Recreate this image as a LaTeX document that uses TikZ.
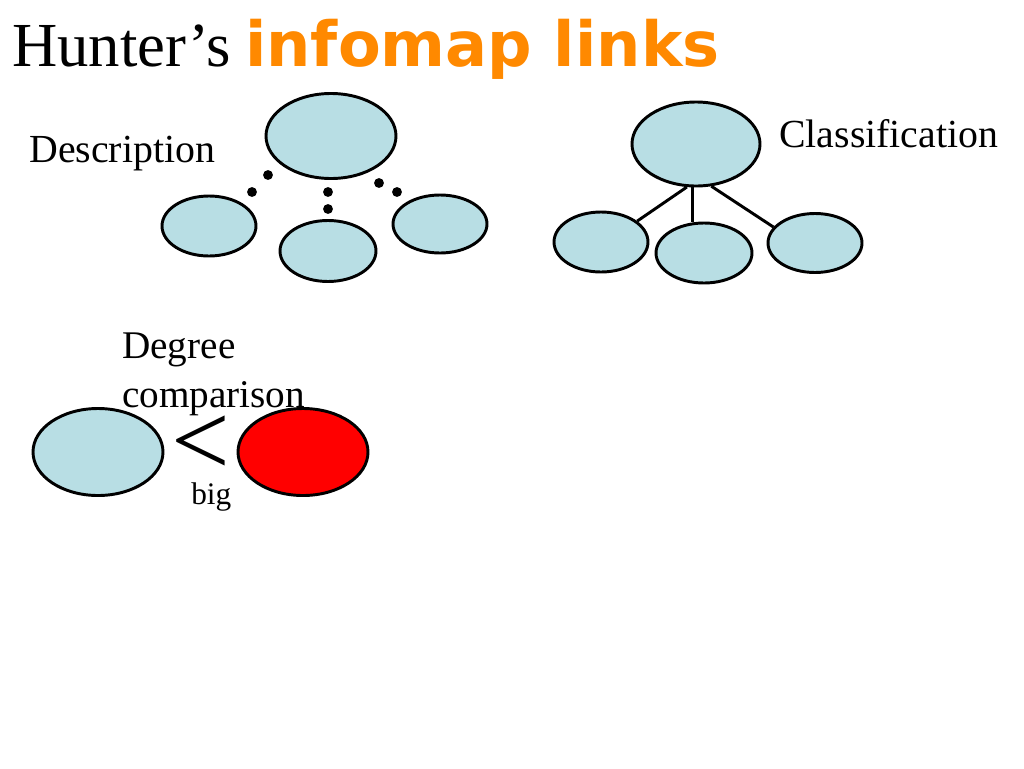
\documentclass[tikz,border=0pt]{standalone}
\usepackage{fontspec}
\setmainfont{Liberation Serif}
\newfontfamily\vb{DejaVu Sans}
\usetikzlibrary{shapes.geometric}
\definecolor{lblue}{RGB}{184,222,228}
\definecolor{torange}{RGB}{255,137,0}
\definecolor{bred}{RGB}{255,0,0}
\tikzset{
  ell/.style={ellipse, draw=black, line width=2.2pt, inner sep=0pt, fill=lblue},
  lbl/.style={inner sep=0pt, anchor=base west},
  conn/.style={line width=2.2pt, black},
  dotc/.style={fill=black}
}
\begin{document}
\begin{tikzpicture}[x=0.75pt,y=-0.75pt]
\useasboundingbox[fill=white] (0,0) rectangle (1024,768);
% title
\node[lbl, font=\fontsize{47}{56}\selectfont] (t1) at (12,66) {Hunter’s};
\node[lbl, font=\vb\bfseries\fontsize{46.7}{56}\selectfont, text=torange] (t2) at (245,66) {infomap links};
% description
\node[lbl, font=\fontsize{29.85}{36}\selectfont] (ldesc) at (29,162) {Description};
\node[ell, minimum width=130*0.75pt, minimum height=85*0.75pt] (d0) at (331,136) {};
\node[ell, minimum width=94*0.75pt, minimum height=60*0.75pt] (d1) at (209,226) {};
\node[ell, minimum width=96*0.75pt, minimum height=61*0.75pt] (d2) at (328,251) {};
\node[ell, minimum width=94*0.75pt, minimum height=58*0.75pt] (d3) at (440,224) {};
\foreach \p in {(268,175),(252,192),(328,192),(328,209),(379,183),(397,192)}
  \fill[dotc] \p circle (3.7pt);
% classification
\node[lbl, font=\fontsize{29.85}{36}\selectfont] (lclass) at (779,147) {Classification};
\node[ell, minimum width=128*0.75pt, minimum height=84*0.75pt] (c0) at (696,144) {};
\node[ell, minimum width=94*0.75pt, minimum height=60*0.75pt] (c1) at (601,242) {};
\node[ell, minimum width=96*0.75pt, minimum height=60*0.75pt] (c2) at (704,253) {};
\node[ell, minimum width=94*0.75pt, minimum height=59*0.75pt] (c3) at (815,243) {};
\draw[conn] (c0.258) -- (c1.30);
\draw[conn] (c0.265) -- (c0.265 |- c2.north);
\draw[conn] (c0.290) -- (c3.159);
% degree comparison
\node[inner sep=0pt, anchor=north west, align=left, font=\fontsize{29.4}{33.75}\selectfont] (ldeg) at (122,333) {Degree\\[3pt]comparison};
\node[ell, minimum width=130*0.75pt, minimum height=87*0.75pt] (g1) at (98,452) {};
\node[ell, fill=bred, minimum width=130*0.75pt, minimum height=87*0.75pt] (g2) at (303,452) {};
\node[inner sep=0pt, font=\fontsize{78}{80}\selectfont] (lt) at (201,446) {<};
\node[lbl, font=\fontsize{23.5}{27}\selectfont] (lbig) at (191,504) {big};
\end{tikzpicture}
\end{document}
